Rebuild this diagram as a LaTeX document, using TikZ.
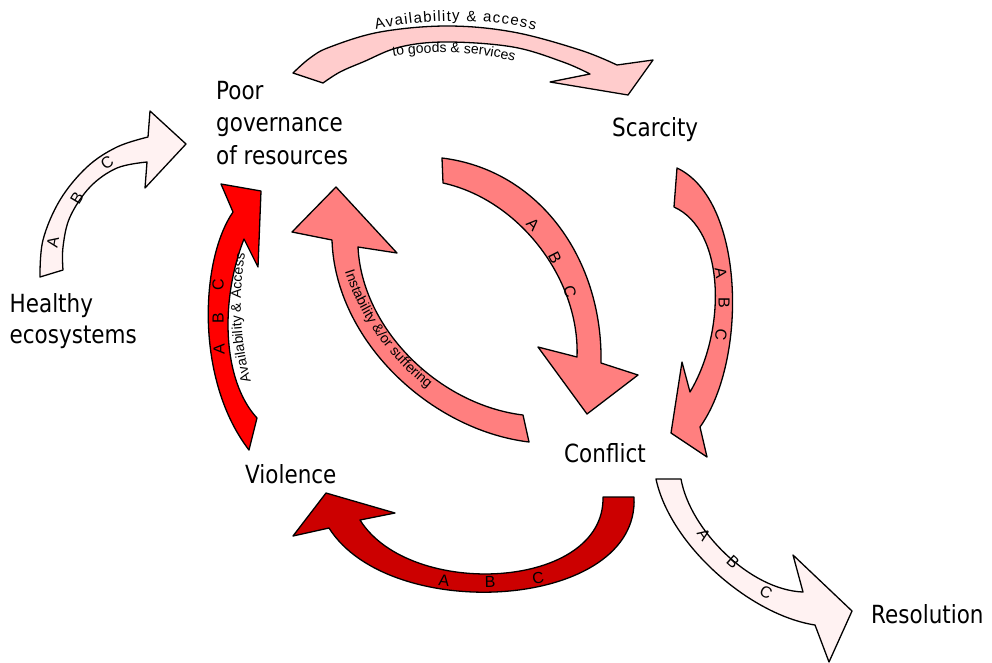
\documentclass[tikz,border=0pt]{standalone}
\usepackage{fontspec}
\setmainfont{Liberation Sans}
\newfontfamily\labelfont[FakeStretch=0.86]{DejaVu Sans}
\newcommand\pathfont{\fontsize{14}{14}\selectfont}
\newcommand\bigpathfont{\fontsize{15}{15}\selectfont}
\newcommand\letterfont{\fontsize{16}{16}\selectfont}
\usetikzlibrary{decorations.text}

\definecolor{accessfill}{HTML}{FFCCCC}
\definecolor{palefill}{HTML}{FFF2F2}
\definecolor{midred}{HTML}{FF7F7F}
\definecolor{brightred}{HTML}{FF0000}
\definecolor{darkred}{HTML}{CC0000}

\begin{document}
\begin{tikzpicture}[x=1pt,y=-1pt,
  band/.style={draw=black, line width=1.3pt, line join=round},
  lbl/.style={font=\labelfont\fontsize{25}{32}\selectfont, inner sep=0pt, anchor=base west},
  abc/.style={font=\letterfont, inner sep=0pt},
  pathtext/.style={decorate, decoration={text along path, text align=center, text={#1}}},
  spreadtext/.style={decorate, decoration={text along path, text align=fit to path, text={#1}}},
  smooth edge/.style={smooth, tension=0.6}]
\useasboundingbox (0,0) rectangle (992,662);

% ---- block arrows -------------------------------------------------------
% governance -> scarcity (access to goods and services)
\filldraw[band, fill=accessfill]
  plot[smooth edge] coordinates {(293,73) (310,58) (330,47) (380,32) (447,26) (513,32) (580,50) (617,65)}
  -- (653,60) -- (628,95) -- (550,82)
  -- plot[smooth edge] coordinates {(590,74) (563,62) (513,47) (447,42) (400,47) (363,62) (340,72) (323,83)}
  -- cycle;

% healthy ecosystems -> governance
\filldraw[band, fill=palefill]
  plot[smooth edge] coordinates {(40,277) (43,240) (60,200) (87,167) (117,147) (148,137)}
  -- (150,111) -- (186,144) -- (145,188)
  -- plot[smooth edge] coordinates {(147,162) (117,168) (90,187) (70,217) (63,247) (63,270)}
  -- cycle;

% violence -> governance
\filldraw[band, fill=brightred]
  (249,450) .. controls (195,380) and (200,260) .. (233,212)
  -- (221,184) -- (261,191) -- (258,267) -- (244,239)
  .. controls (220,300) and (222,380) .. (257,418)
  -- cycle;

% conflict -> governance (instability)
\filldraw[band, fill=midred]
  (529,442) .. controls (430,430) and (335,340) .. (332,240)
  -- (292,232) -- (336,187) -- (397,253) -- (358,247)
  .. controls (362,330) and (440,405) .. (523,415)
  -- cycle;

% governance -> conflict
\filldraw[band, fill=midred]
  (442,158) .. controls (540,170) and (603,260) .. (601,363)
  -- (638,375) -- (587,414) -- (538,347) -- (577,357)
  .. controls (580,280) and (520,200) .. (443,183)
  -- cycle;

% scarcity -> conflict
\filldraw[band, fill=midred]
  (677,168) .. controls (745,200) and (748,360) .. (700,427)
  -- (707,457) -- (671,433) -- (682,362) -- (690,392)
  .. controls (727,330) and (725,230) .. (674,207)
  -- cycle;

% conflict -> violence
\filldraw[band, fill=darkred]
  (634,497) .. controls (640,610) and (390,625) .. (329,528)
  -- (293,536) -- (326,493) -- (395,513) -- (360,520)
  .. controls (410,600) and (605,590) .. (603,497)
  -- cycle;

% conflict -> resolution
\filldraw[band, fill=palefill]
  (681,479) .. controls (690,530) and (750,590) .. (803,592)
  -- (793,555) -- (852,611) -- (829,662) -- (815,625)
  .. controls (750,615) and (670,545) .. (656,479)
  -- cycle;

% ---- texts along the arrows ----------------------------------------------
\path[spreadtext={|\bigpathfont|Availability {\&} access}] (376,30) .. controls (420,18) and (490,18) .. (535,30);
\path[pathtext={|\pathfont|to goods {\&} services}] (385,58) .. controls (425,50) and (480,50) .. (522,64);
\path[pathtext={|\pathfont|Instability {\&}/or suffering}] (338,245) .. controls (350,305) and (385,362) .. (450,405);
\path[pathtext={|\pathfont|Availability {\&} Access}] (254,392) .. controls (238,340) and (238,290) .. (247,243);

\node[abc, rotate=80] (eA) at (53,242) {A};
\node[abc, rotate=59] (eB) at (77,198) {B};
\node[abc, rotate=34] (eC) at (107,163) {C};

\node[abc, rotate=90] (vA) at (219,349) {A};
\node[abc, rotate=90] (vB) at (218,318) {B};
\node[abc, rotate=90] (vC) at (218,285) {C};

\node[abc, rotate=-46] (gA) at (533,225) {A};
\node[abc, rotate=-63] (gB) at (555,258) {B};
\node[abc, rotate=-75] (gC) at (570,292) {C};

\node[abc, rotate=-81] (sA) at (721,273) {A};
\node[abc, rotate=-90] (sB) at (724,303) {B};
\node[abc, rotate=-96] (sC) at (721,335) {C};

\node[abc, rotate=-6] (cA) at (444,581) {A};
\node[abc, rotate=1] (cB) at (490,582) {B};
\node[abc, rotate=10] (cC) at (538,578) {C};

\node[abc, rotate=-55] (rA) at (704,535) {A};
\node[abc, rotate=-42] (rB) at (733,562) {B};
\node[abc, rotate=-28] (rC) at (766,592) {C};

% ---- stage labels --------------------------------------------------------
\node[lbl] (gov1) at (216,99) {Poor};
\node[lbl] (gov2) at (216,131.5) {governance};
\node[lbl] (gov3) at (216,164) {of resources};
\node[lbl] (eco1) at (9.5,312) {Healthy};
\node[lbl] (eco2) at (9.5,343) {ecosystems};
\node[lbl] (scar) at (612,136) {Scarcity};
\node[lbl] (conf) at (564,462) {Conflict};
\node[lbl] (viol) at (245,483) {Violence};
\node[lbl] (res) at (871,623) {Resolution};
\end{tikzpicture}
\end{document}
